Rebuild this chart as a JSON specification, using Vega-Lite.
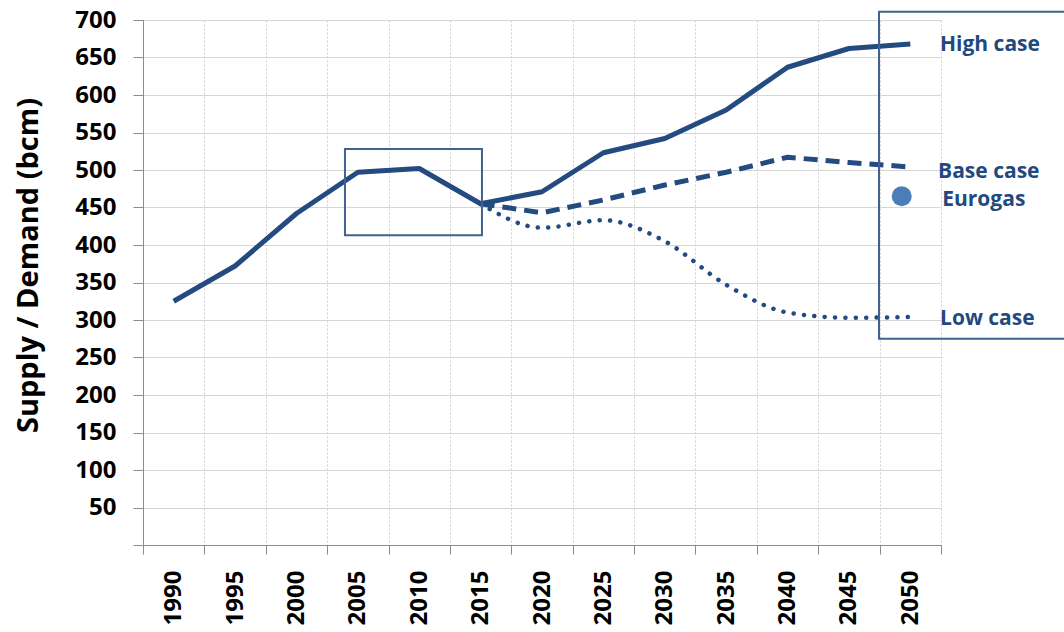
{
  "$schema": "https://vega.github.io/schema/vega-lite/v6.json",
  "autosize": {"type": "none"},
  "width": 798,
  "height": 525,
  "padding": {"left": 143, "top": 20, "right": 123, "bottom": 87},
  "background": "white",
  "config": {"view": {"stroke": null}},
  "datasets": {
    "series": [
      {"year": 1990, "value": 325, "case": "High"},
      {"year": 1995, "value": 372, "case": "High"},
      {"year": 2000, "value": 442, "case": "High"},
      {"year": 2005, "value": 497, "case": "High"},
      {"year": 2010, "value": 502, "case": "High"},
      {"year": 2015, "value": 455, "case": "High"},
      {"year": 2020, "value": 471, "case": "High"},
      {"year": 2025, "value": 523, "case": "High"},
      {"year": 2030, "value": 542, "case": "High"},
      {"year": 2035, "value": 580, "case": "High"},
      {"year": 2040, "value": 637, "case": "High"},
      {"year": 2045, "value": 662, "case": "High"},
      {"year": 2050, "value": 668, "case": "High"},
      {"year": 2015, "value": 455, "case": "Base"},
      {"year": 2020, "value": 443, "case": "Base"},
      {"year": 2025, "value": 460, "case": "Base"},
      {"year": 2030, "value": 480, "case": "Base"},
      {"year": 2035, "value": 497, "case": "Base"},
      {"year": 2040, "value": 517, "case": "Base"},
      {"year": 2045, "value": 510, "case": "Base"},
      {"year": 2050, "value": 504, "case": "Base"},
      {"year": 2015, "value": 455, "case": "Low"},
      {"year": 2020, "value": 423, "case": "Low"},
      {"year": 2025, "value": 433, "case": "Low"},
      {"year": 2030, "value": 405, "case": "Low"},
      {"year": 2035, "value": 347, "case": "Low"},
      {"year": 2040, "value": 310, "case": "Low"},
      {"year": 2045, "value": 303, "case": "Low"},
      {"year": 2050, "value": 304, "case": "Low"}
    ],
    "boxes": [
      {"year": 2003.95, "year2": 2015.11, "value": 413, "value2": 528},
      {"year": 2047.45, "year2": 2066, "value": 275, "value2": 711}
    ],
    "labels": [
      {"year": 2052.42, "value": 667, "text": "High case"},
      {"year": 2052.26, "value": 497, "text": "Base case"},
      {"year": 2052.6, "value": 460, "text": "Eurogas"},
      {"year": 2052.42, "value": 301, "text": "Low case"}
    ],
    "eurogas": [{"year": 2049.3, "value": 465}]
  },
  "encoding": {
    "x": {
      "field": "year", "type": "quantitative",
      "scale": {"domain": [1987.5, 2052.5], "nice": false, "zero": false},
      "axis": {
        "title": null,
        "values": [1987.5, 1992.5, 1997.5, 2002.5, 2007.5, 2012.5, 2017.5, 2022.5, 2027.5, 2032.5, 2037.5, 2042.5, 2047.5, 2052.5],
        "labelExpr": "datum.value > 2050 ? '' : format(datum.value + 2.5, 'd')",
        "labelOffset": 30.7,
        "labelAngle": -90,
        "labelAlign": "right",
        "labelBaseline": "middle",
        "labelFont": "Open Sans",
        "labelFontWeight": "bold",
        "labelFontSize": 24,
        "labelColor": "#000000",
        "labelPadding": 16,
        "labelOverlap": false,
        "labelFlush": false,
        "tickSize": 9,
        "tickColor": "#8c8c8c",
        "domainColor": "#8c8c8c",
        "grid": true,
        "gridColor": "#cfcfcf",
        "gridDash": [2, 2],
        "gridWidth": 1
      }
    },
    "y": {
      "field": "value", "type": "quantitative",
      "scale": {"domain": [0, 700], "nice": false},
      "axis": {
        "title": "Supply / Demand (bcm)",
        "titleFont": "Open Sans",
        "titleFontWeight": "bold",
        "titleFontSize": 29,
        "titleColor": "#000000",
        "titleAngle": -90,
        "titleX": -115,
        "titleY": 245,
        "titleAlign": "center",
        "titleBaseline": "middle",
        "values": [0, 50, 100, 150, 200, 250, 300, 350, 400, 450, 500, 550, 600, 650, 700],
        "labelExpr": "datum.value === 0 ? '' : datum.label",
        "labelFont": "Open Sans",
        "labelFontWeight": "bold",
        "labelFontSize": 24,
        "labelColor": "#000000",
        "labelPadding": 17,
        "labelFlush": false,
        "labelOverlap": false,
        "tickSize": 10,
        "tickColor": "#8c8c8c",
        "domainColor": "#8c8c8c",
        "grid": true,
        "gridColor": "#d6d6d6",
        "gridWidth": 1
      }
    }
  },
  "layer": [
    {
      "data": {"name": "series"},
      "transform": [{"filter": "datum.case === 'High'"}],
      "mark": {"type": "line", "interpolate": "linear", "color": "#244b80", "strokeWidth": 5, "strokeJoin": "round"}
    },
    {
      "data": {"name": "series"},
      "transform": [{"filter": "datum.case === 'Base'"}],
      "mark": {"type": "line", "interpolate": "linear", "color": "#244b80", "strokeWidth": 5, "strokeDash": [14, 8], "strokeJoin": "round"}
    },
    {
      "data": {"name": "series"},
      "transform": [{"filter": "datum.case === 'Low'"}],
      "mark": {"type": "line", "interpolate": "monotone", "color": "#244b80", "strokeWidth": 4.5, "strokeDash": [0.1, 10.3], "strokeCap": "round"}
    },
    {
      "data": {"name": "boxes"},
      "mark": {"type": "rect", "fill": null, "filled": false, "stroke": "#3f6290", "strokeWidth": 2},
      "encoding": {
        "x2": {"field": "year2"},
        "y2": {"field": "value2"}
      }
    },
    {
      "data": {"name": "eurogas"},
      "mark": {"type": "circle", "color": "#4a7ebb", "opacity": 1, "size": 400}
    },
    {
      "data": {"name": "labels"},
      "mark": {"type": "text", "align": "left", "baseline": "middle", "font": "Open Sans", "fontWeight": "bold", "fontSize": 21, "color": "#1f4a7e"},
      "encoding": {
        "text": {"field": "text"}
      }
    }
  ]
}
